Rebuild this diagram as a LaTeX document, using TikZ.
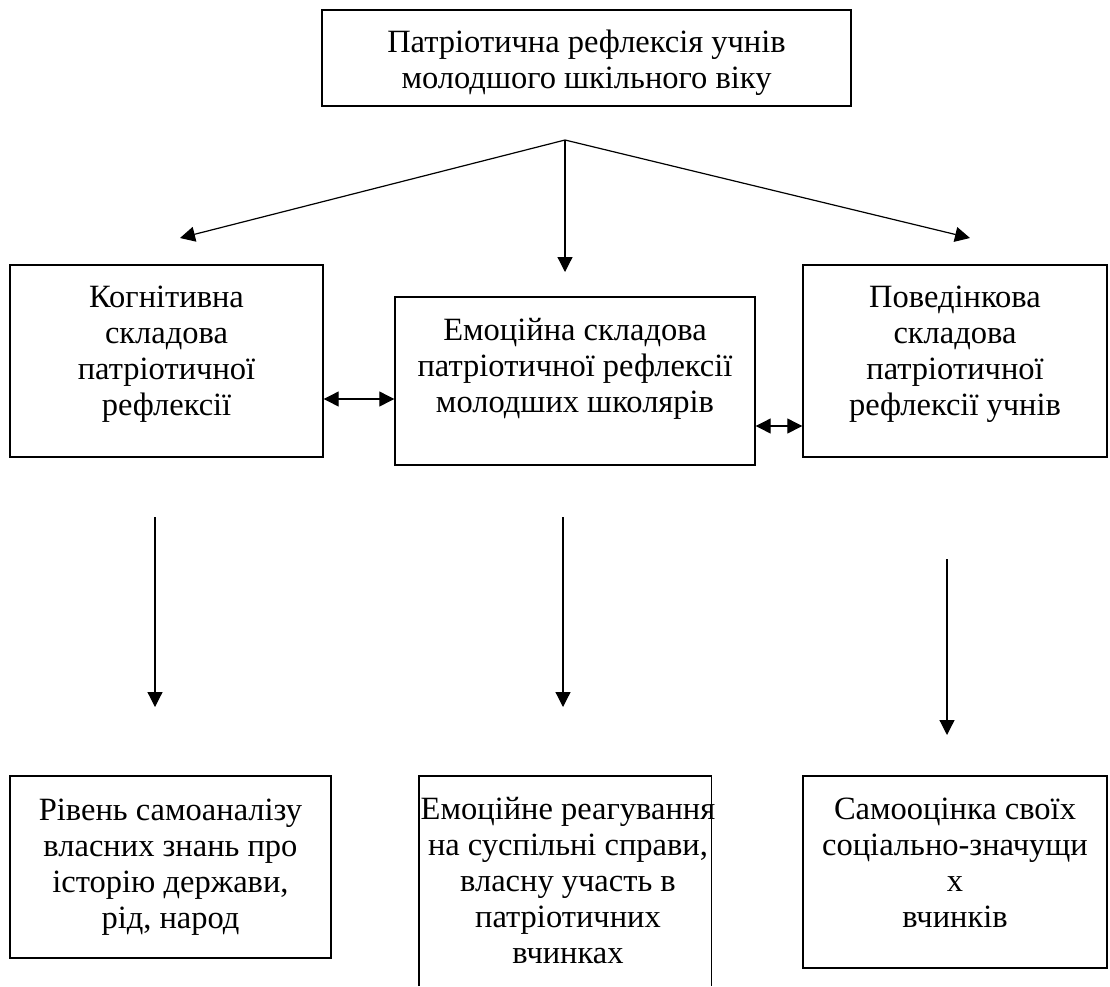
\documentclass[tikz,border=0pt]{standalone}
\usepackage{fontspec}
\setmainfont{Liberation Serif}
\usetikzlibrary{arrows.meta}

\begin{document}
\begin{tikzpicture}[x=1pt,y=-1pt,
  every node/.style={align=center,font=\fontsize{32.5}{36}\selectfont,inner sep=0pt},
  box/.style n args={2}{draw,line width=1.4pt,minimum width=#1,minimum height=#2},
  ar/.style={-{Triangle[length=15pt,width=15pt]},line width=1.2pt},
  dar/.style={{Triangle[length=15pt,width=15pt]}-{Triangle[length=15pt,width=15pt]},line width=1.2pt}]
\useasboundingbox (0,0) rectangle (1110,986);

\node[box={529pt}{96pt}] (top) at (586.5,58) {};
\node[box={313pt}{192pt}] (kog) at (166.5,361) {};
\node[box={360pt}{168pt}] (emo) at (575,381) {};
\node[box={304pt}{192pt}] (pov) at (955,361) {};
\node[box={321pt}{182pt}] (riv) at (170.5,867) {};
\node[minimum width=292pt,minimum height=210pt] (reag) at (565,881) {};
\node[box={304pt}{192pt}] (samo) at (955,872) {};
\draw[line width=1.4pt] (reag.south west) -- (reag.north west) -- (reag.north east) -- (reag.south east);

\node (toptxt) at ([yshift=-5pt]top.center) {Патріотична рефлексія учнів\\молодшого шкільного віку};
\node (kogtxt) at ([yshift=7pt]kog.center) {Когнітивна\\складова\\патріотичної\\рефлексії};
\node (emotxt) at ([yshift=12pt]emo.center) {Емоційна складова\\патріотичної рефлексії\\молодших школярів};
\node (povtxt) at ([yshift=7pt]pov.center) {Поведінкова\\складова\\патріотичної\\рефлексії учнів};
\node (rivtxt) at (riv.center) {Рівень самоаналізу\\власних знань про\\історію держави,\\рід, народ};
\node (reagtxt) at ([xshift=3pt]reag.center) {Емоційне реагування\\на суспільні справи,\\власну участь в\\патріотичних\\вчинках};
\node (samotxt) at ([yshift=9pt]samo.center) {Самооцінка своїх\\соціально-значущи\\х\\вчинків};

\coordinate (fork) at (565,140);
\coordinate (kogtip) at (180,238);
\coordinate (emotip) at (565,272);
\coordinate (povtip) at (970,238);
\draw[ar] (fork) -- (kogtip);
\draw[ar] (fork) -- (emotip);
\draw[ar] (fork) -- (povtip);

\coordinate (dl) at (0,399);
\coordinate (dr) at (0,426);
\draw[dar] (kog.east |- dl) -- (emo.west |- dl);
\draw[dar] (emo.east |- dr) -- (pov.west |- dr);

\coordinate (k1) at (155,517);
\coordinate (k2) at (155,707);
\coordinate (e1) at (563,517);
\coordinate (e2) at (563,707);
\coordinate (p1) at (947,559);
\coordinate (p2) at (947,735);
\draw[ar] (k1) -- (k2);
\draw[ar] (e1) -- (e2);
\draw[ar] (p1) -- (p2);
\end{tikzpicture}
\end{document}
